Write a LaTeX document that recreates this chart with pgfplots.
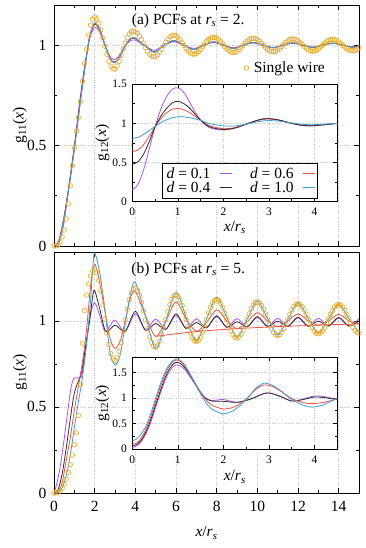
\documentclass[border=0pt]{standalone}
\usepackage{pgfplots}
\pgfplotsset{compat=1.18}
\usepackage{fontspec}
\setmainfont{Liberation Serif}

\definecolor{cP}{RGB}{175,85,230}
\definecolor{cK}{RGB}{45,45,45}
\definecolor{cR}{RGB}{240,80,70}
\definecolor{cB}{RGB}{60,160,215}
\definecolor{cO}{RGB}{232,168,40}

\newcommand{\bigf}{\fontsize{15.5}{16}\selectfont}
\newcommand{\smallf}{\fontsize{11.5}{12}\selectfont}
\newcommand{\xrs}{\textit{x}/\textit{r}\textsubscript{\textit{s}}}

\pgfplotsset{
  common/.style={
    scale only axis, tick align=inside,
    grid=major, grid style={dotted, black!22, line width=0.5pt},
    axis line style={line width=0.8pt},
    tick style={line width=0.6pt, black},
    /pgf/number format/assume math mode=true,
  },
  mainax/.style={common,
    width=305pt, height=241pt,
    xmin=0, xmax=15, ymin=0,
    xtick={0,2,...,14}, minor x tick num=1,
    ytick={0,0.5,1}, minor y tick num=1,
    major tick length=5pt, minor tick length=3pt,
    tick label style={font=\bigf}, label style={font=\bigf},
    xticklabel style={yshift=-5pt},
    yticklabel style={xshift=-4pt},
    ylabel={g\textsubscript{11}(\textit{x})},
    ylabel style={at={(axis description cs:-0.1115,0.5)}, anchor=center},
  },
  inax/.style={common,
    width=205pt,
    xmin=0, xmax=4.5, ymin=0,
    xtick={0,...,4}, minor x tick num=1,
    ytick={0,0.5,1,1.5}, minor y tick num=1,
    major tick length=4pt, minor tick length=2.5pt,
    axis background/.style={fill=white},
    tick label style={font=\smallf}, label style={font=\bigf},
    xticklabel style={yshift=-3pt},
    yticklabel style={xshift=-2pt},
    xlabel={\xrs},
    ylabel={g\textsubscript{12}(\textit{x})},
    ylabel style={at={(axis description cs:-0.1463,0.5)}, anchor=center},
  },
  lP/.style={smooth, no markers, color=cP, line width=0.8pt},
  lK/.style={smooth, no markers, color=cK, line width=0.8pt},
  lR/.style={smooth, no markers, color=cR, line width=0.8pt},
  lB/.style={smooth, no markers, color=cB, line width=0.8pt},
  circ/.style={only marks, mark=o, color=cO, mark size=2.3pt, mark options={line width=0.6pt}},
}

\begin{document}
\begin{tikzpicture}
\path[use as bounding box] (0pt,0pt) rectangle (366pt,-548pt);

% ---------------- (a) r_s = 2 ----------------
\begin{axis}[mainax, at={(54pt,-246pt)}, anchor=south west, ymax=1.2,
  xticklabels={},
  legend style={at={(0.905,0.739)}, anchor=east, draw=none, fill=none, font=\bigf},
  legend cell align=left]
\addplot[circ] coordinates {
(0,0) (0.1,0) (0.2,0.005) (0.3,0.02) (0.4,0.045) (0.5,0.08) (0.6,0.135) (0.7,0.21) (0.8,0.3) (0.9,0.4)
(1.0,0.49) (1.1,0.57) (1.2,0.64) (1.3,0.72) (1.4,0.82) (1.5,0.91) (1.6,0.98) (1.7,1.05) (1.8,1.1) (1.9,1.13)
(2.0,1.140) (2.1,1.131) (2.2,1.109) (2.3,1.076) (2.4,1.037) (2.5,0.995) (2.6,0.955) (2.7,0.920) (2.8,0.895) (2.9,0.882)
(3.0,0.881) (3.1,0.896) (3.2,0.919) (3.3,0.949) (3.4,0.981) (3.5,1.011) (3.6,1.037) (3.7,1.056) (3.8,1.067) (3.9,1.070)
(4.0,1.067) (4.1,1.059) (4.2,1.045) (4.3,1.028) (4.4,1.008) (4.5,0.988) (4.6,0.969) (4.7,0.955) (4.8,0.945) (4.9,0.942)
(5.0,0.944) (5.1,0.952) (5.2,0.965) (5.3,0.980) (5.4,0.998) (5.5,1.015) (5.6,1.030) (5.7,1.041) (5.8,1.048) (5.9,1.050)
(6.0,1.047) (6.1,1.039) (6.2,1.028) (6.3,1.013) (6.4,0.998) (6.5,0.983) (6.6,0.971) (6.7,0.961) (6.8,0.956) (6.9,0.955)
(7.0,0.959) (7.1,0.967) (7.2,0.978) (7.3,0.991) (7.4,1.005) (7.5,1.018) (7.6,1.029) (7.7,1.036) (7.8,1.040) (7.9,1.039)
(8.0,1.035) (8.1,1.027) (8.2,1.017) (8.3,1.005) (8.4,0.992) (8.5,0.981) (8.6,0.972) (8.7,0.966) (8.8,0.963) (8.9,0.964)
(9.0,0.969) (9.1,0.977) (9.2,0.987) (9.3,0.999) (9.4,1.010) (9.5,1.020) (9.6,1.028) (9.7,1.033) (9.8,1.035) (9.9,1.033)
(10.0,1.028) (10.1,1.020) (10.2,1.010) (10.3,0.999) (10.4,0.988) (10.5,0.979) (10.6,0.972) (10.7,0.968) (10.8,0.967) (10.9,0.970)
(11.0,0.976) (11.1,0.984) (11.2,0.994) (11.3,1.004) (11.4,1.014) (11.5,1.022) (11.6,1.028) (11.7,1.031) (11.8,1.031) (11.9,1.027)
(12.0,1.021) (12.1,1.013) (12.2,1.004) (12.3,0.994) (12.4,0.985) (12.5,0.977) (12.6,0.972) (12.7,0.970) (12.8,0.971) (12.9,0.975)
(13.0,0.981) (13.1,0.990) (13.2,0.999) (13.3,1.008) (13.4,1.017) (13.5,1.023) (13.6,1.028) (13.7,1.029) (13.8,1.028) (13.9,1.023)
(14.0,1.016) (14.1,1.008) (14.2,0.999) (14.3,0.990) (14.4,0.982) (14.5,0.976) (14.6,0.972) (14.7,0.972) (14.8,0.974) (14.9,0.979)
(15.0,0.986)};
\addlegendentry{\hspace{3pt}Single wire}
% d = 0.1
\addplot[lP, forget plot] coordinates {
(0,0) (0.25,0.015) (0.5,0.12) (0.75,0.31) (1,0.5) (1.25,0.71) (1.5,0.89) (1.75,1.03) (2,1.088) (2.25,1.065)
(2.49,1.005) (2.75,0.945) (2.98,0.928) (3.22,0.95) (3.46,0.99) (3.7,1.018) (3.95,1.026) (4.44,1.0) (4.93,0.974) (5.41,1.0)
(5.9,1.017) (6.39,1.0) (6.88,0.984) (7.36,1.0) (7.85,1.013) (8.34,1.0) (8.83,0.987) (9.31,1.0) (9.8,1.011) (10.29,1.0)
(10.78,0.989) (11.26,1.0) (11.75,1.01) (12.24,1.0) (12.73,0.99) (13.21,1.0) (13.7,1.009) (14.19,1.0) (14.68,0.991) (15,0.997)};
% d = 0.4
\addplot[lK, forget plot] coordinates {
(0,0) (0.25,0.03) (0.5,0.15) (0.75,0.31) (1,0.49) (1.25,0.69) (1.5,0.88) (1.75,1.04) (2,1.105) (2.25,1.075)
(2.49,1.005) (2.75,0.935) (2.98,0.915) (3.22,0.94) (3.46,0.99) (3.7,1.025) (3.95,1.035) (4.44,1.0) (4.93,0.966) (5.41,0.999)
(5.9,1.022) (6.39,1.0) (6.88,0.978) (7.36,1.0) (7.85,1.016) (8.34,1.0) (8.83,0.984) (9.31,1.0) (9.8,1.013) (10.29,1.0)
(10.78,0.987) (11.26,1.0) (11.75,1.011) (12.24,1.0) (12.73,0.989) (13.21,1.0) (13.7,1.01) (14.19,1.0) (14.68,0.99) (15,0.996)};
% d = 0.6
\addplot[lR, forget plot] coordinates {
(0,0) (0.25,0.03) (0.5,0.145) (0.75,0.305) (1,0.485) (1.25,0.685) (1.5,0.875) (1.75,1.04) (2,1.108) (2.25,1.078)
(2.49,1.005) (2.75,0.933) (2.98,0.913) (3.22,0.94) (3.46,0.99) (3.7,1.026) (3.95,1.036) (4.44,1.0) (4.93,0.965) (5.41,0.999)
(5.9,1.023) (6.39,1.0) (6.88,0.978) (7.36,1.0) (7.85,1.016) (8.34,1.0) (8.83,0.984) (9.31,1.0) (9.8,1.013) (10.29,1.0)
(10.78,0.987) (11.26,1.0) (11.75,1.011) (12.24,1.0) (12.73,0.989) (13.21,1.0) (13.7,1.01) (14.19,1.0) (14.68,0.99) (15,0.996)};
% d = 1.0
\addplot[lB, forget plot] coordinates {
(0,0) (0.25,0.028) (0.5,0.14) (0.75,0.3) (1,0.48) (1.25,0.68) (1.5,0.87) (1.75,1.04) (2,1.112) (2.25,1.082)
(2.49,1.005) (2.75,0.932) (2.98,0.912) (3.22,0.94) (3.46,0.99) (3.7,1.027) (3.95,1.038) (4.44,1.0) (4.93,0.964) (5.41,0.999)
(5.9,1.024) (6.39,1.0) (6.88,0.977) (7.36,1.0) (7.85,1.017) (8.34,1.0) (8.83,0.983) (9.31,1.0) (9.8,1.013) (10.29,1.0)
(10.78,0.987) (11.26,1.0) (11.75,1.011) (12.24,1.0) (12.73,0.989) (13.21,1.0) (13.7,1.01) (14.19,1.0) (14.68,0.99) (15,0.996)};
\node[font=\bigf] at (rel axis cs:0.44,0.934) {(a) PCFs at \textit{r}\textsubscript{\textit{s}} = 2.};
\end{axis}

% inset (a)
\begin{axis}[inax, at={(132.3pt,-201.7pt)}, anchor=south west, height=117.5pt, ymax=1.5,
  xlabel style={at={(axis description cs:0.5,0)}, anchor=center, yshift=-26pt},
  legend style={at={(0.905,0.03)}, anchor=south east, draw=black, line width=0.6pt, fill=white,
    font=\bigf, row sep=-2pt, inner sep=2pt,
    /tikz/every even column/.append style={column sep=16pt},
    /tikz/every odd column/.append style={column sep=7pt}},
  legend columns=2, legend plot pos=right,
  legend image code/.code={\draw[#1] (0pt,0pt) -- (12pt,0pt);}]
\addplot[lP] coordinates {
(0,0.15) (0.125,0.22) (0.25,0.41) (0.375,0.68) (0.5,0.96) (0.625,1.18) (0.75,1.34) (0.875,1.435) (0.95,1.455) (1.05,1.44)
(1.15,1.38) (1.25,1.28) (1.375,1.15) (1.5,1.04) (1.625,0.97) (1.75,0.935) (2.0,0.915) (2.25,0.94) (2.5,0.99) (2.75,1.04)
(2.95,1.063) (3.2,1.045) (3.5,1.0) (3.75,0.972) (3.95,0.968) (4.2,0.98) (4.5,1.0)};
\addlegendentry{\textit{d} = 0.1}
\addplot[lR] coordinates {
(0,0.64) (0.125,0.66) (0.25,0.73) (0.375,0.84) (0.5,0.955) (0.625,1.06) (0.75,1.135) (0.875,1.18) (0.97,1.19) (1.1,1.18)
(1.25,1.14) (1.375,1.09) (1.5,1.04) (1.625,0.99) (1.75,0.96) (2.0,0.932) (2.25,0.945) (2.5,0.99) (2.75,1.038) (2.95,1.057)
(3.2,1.043) (3.5,1.0) (3.75,0.975) (3.95,0.972) (4.2,0.983) (4.5,1.0)};
\addlegendentry{\textit{d} = 0.6}
\addplot[lK] coordinates {
(0,0.48) (0.125,0.51) (0.25,0.61) (0.375,0.77) (0.5,0.955) (0.625,1.09) (0.75,1.19) (0.875,1.26) (0.95,1.28) (1.05,1.275)
(1.15,1.245) (1.25,1.2) (1.375,1.12) (1.5,1.04) (1.625,0.98) (1.75,0.945) (2.0,0.922) (2.25,0.94) (2.5,0.99) (2.75,1.04)
(2.95,1.06) (3.2,1.045) (3.5,1.0) (3.75,0.973) (3.95,0.97) (4.2,0.982) (4.5,1.0)};
\addlegendentry{\textit{d} = 0.4}
\addplot[lB] coordinates {
(0,0.81) (0.125,0.82) (0.25,0.86) (0.375,0.91) (0.5,0.96) (0.625,1.01) (0.75,1.045) (0.9,1.075) (1.05,1.085) (1.2,1.078)
(1.35,1.06) (1.5,1.038) (1.625,1.01) (1.75,0.99) (2.0,0.968) (2.25,0.967) (2.5,0.99) (2.75,1.02) (2.95,1.035) (3.2,1.03)
(3.5,1.005) (3.75,0.987) (3.95,0.983) (4.2,0.99) (4.5,1.0)};
\addlegendentry{\textit{d} = 1.0}
\end{axis}

% ---------------- (b) r_s = 5 ----------------
\begin{axis}[mainax, at={(54pt,-493pt)}, anchor=south west, ymax=1.4,
  xlabel={\xrs},
  xlabel style={at={(axis description cs:0.5,0)}, anchor=center, yshift=-40pt}]
\addplot[circ] coordinates {
(0,0) (0.1,0.001) (0.2,0.004) (0.3,0.012) (0.4,0.028) (0.5,0.05) (0.6,0.08) (0.7,0.12) (0.8,0.165) (0.9,0.22)
(1.0,0.28) (1.1,0.35) (1.2,0.45) (1.3,0.63) (1.4,0.87) (1.5,1.06) (1.6,1.15) (1.7,1.215) (1.8,1.26) (1.9,1.29)
(2.0,1.300) (2.1,1.280) (2.2,1.236) (2.3,1.172) (2.4,1.094) (2.5,1.011) (2.6,0.931) (2.7,0.862) (2.8,0.809) (2.9,0.778)
(3.0,0.770) (3.1,0.785) (3.2,0.822) (3.3,0.874) (3.4,0.937) (3.5,1.004) (3.6,1.068) (3.7,1.122) (3.8,1.163) (3.9,1.186)
(4.0,1.190) (4.1,1.179) (4.2,1.151) (4.3,1.109) (4.4,1.059) (4.5,1.005) (4.6,0.953) (4.7,0.908) (4.8,0.874) (4.9,0.854)
(5.0,0.850) (5.1,0.859) (5.2,0.883) (5.3,0.918) (5.4,0.962) (5.5,1.009) (5.6,1.055) (5.7,1.095) (5.8,1.126) (5.9,1.145)
(6.0,1.150) (6.1,1.142) (6.2,1.121) (6.3,1.089) (6.4,1.050) (6.5,1.008) (6.6,0.967) (6.7,0.930) (6.8,0.902) (6.9,0.885)
(7.0,0.880) (7.1,0.887) (7.2,0.906) (7.3,0.935) (7.4,0.970) (7.5,1.008) (7.6,1.046) (7.7,1.079) (7.8,1.105) (7.9,1.120)
(8.0,1.125) (8.1,1.119) (8.2,1.101) (8.3,1.075) (8.4,1.043) (8.5,1.008) (8.6,0.974) (8.7,0.943) (8.8,0.919) (8.9,0.904)
(9.0,0.900) (9.1,0.906) (9.2,0.922) (9.3,0.946) (9.4,0.976) (9.5,1.009) (9.6,1.041) (9.7,1.070) (9.8,1.092) (9.9,1.106)
(10.0,1.110) (10.1,1.105) (10.2,1.090) (10.3,1.068) (10.4,1.040) (10.5,1.009) (10.6,0.979) (10.7,0.953) (10.8,0.932) (10.9,0.919)
(11.0,0.915) (11.1,0.920) (11.2,0.934) (11.3,0.955) (11.4,0.981) (11.5,1.010) (11.6,1.038) (11.7,1.064) (11.8,1.084) (11.9,1.096)
(12.0,1.100) (12.1,1.095) (12.2,1.083) (12.3,1.063) (12.4,1.038) (12.5,1.011) (12.6,0.984) (12.7,0.960) (12.8,0.941) (12.9,0.929)
(13.0,0.925) (13.1,0.930) (13.2,0.942) (13.3,0.961) (13.4,0.985) (13.5,1.011) (13.6,1.038) (13.7,1.061) (13.8,1.080) (13.9,1.091)
(14.0,1.095) (14.1,1.091) (14.2,1.079) (14.3,1.060) (14.4,1.037) (14.5,1.011) (14.6,0.986) (14.7,0.963) (14.8,0.945) (14.9,0.934)
(15.0,0.930)};
% d = 0.1
\addplot[lP] coordinates {
(0,0) (0.15,0.06) (0.3,0.15) (0.45,0.27) (0.65,0.45) (0.82,0.6) (0.95,0.66) (1.1,0.67) (1.35,0.675) (1.5,0.79)
(1.65,0.93) (1.8,1.04) (2.0,1.105) (2.25,1.03) (2.5,0.94) (2.75,0.97) (3.0,1.005) (3.5,0.94) (4.0,1.04) (4.5,0.948)
(5.0,1.01) (5.5,0.953) (6.0,1.03) (6.5,0.957) (7.0,1.012) (7.5,0.96) (8.0,1.025) (8.5,0.963) (9.0,1.013) (9.5,0.965)
(10.0,1.02) (10.5,0.967) (11.0,1.015) (11.5,0.968) (12.0,1.018) (12.5,0.968) (13.0,1.015) (13.5,0.97) (14.0,1.017) (14.5,0.97)
(15.0,1.013)};
% d = 0.4
\addplot[lK] coordinates {
(0,0) (0.2,0.02) (0.4,0.11) (0.6,0.26) (0.8,0.43) (1.0,0.58) (1.2,0.65) (1.35,0.7) (1.5,0.81) (1.75,1.0)
(1.9,1.14) (2.0,1.176) (2.25,1.07) (2.55,0.938) (3.0,0.975) (3.5,0.94) (4.0,1.055) (4.5,0.945) (5.0,0.985) (5.5,0.95)
(6.0,1.04) (6.5,0.955) (7.0,0.99) (7.5,0.96) (8.0,1.03) (8.5,0.962) (9.0,0.995) (9.5,0.965) (10.0,1.025) (10.5,0.967)
(11.0,0.998) (11.5,0.968) (12.0,1.022) (12.5,0.969) (13.0,0.999) (13.5,0.97) (14.0,1.02) (14.5,0.97) (15.0,1.0)};
% d = 0.6
\addplot[lR] coordinates {
(0,0) (0.2,0.01) (0.4,0.06) (0.6,0.19) (0.8,0.32) (1.0,0.48) (1.2,0.62) (1.4,0.76) (1.6,0.95) (1.8,1.2)
(2.0,1.33) (2.25,1.22) (2.5,1.06) (2.75,0.9) (3.0,0.84) (3.25,0.88) (3.5,1.0) (3.75,1.13) (4.0,1.17) (4.5,1.03)
(5.0,0.91) (5.5,1.0) (6.0,1.11) (6.5,1.01) (7.0,0.94) (7.5,0.99) (8.0,1.064) (8.5,1.0) (9.0,0.955) (9.5,0.995)
(10.0,1.048) (10.5,1.0) (11.0,0.966) (11.5,1.0) (12.0,1.04) (12.5,1.0) (13.0,0.975) (13.5,1.0) (14.0,1.038) (14.5,1.0)
(15.0,0.982)};
\addplot[lR] coordinates {
(5.0,0.91) (6,0.925) (7,0.938) (8,0.947) (9,0.955) (10,0.961) (11,0.966) (12,0.971) (13,0.975) (14,0.979) (15,0.982)};
% d = 1.0
\addplot[lB] coordinates {
(0,0) (0.2,0.005) (0.4,0.03) (0.6,0.1) (0.8,0.22) (1.0,0.38) (1.2,0.53) (1.4,0.67) (1.6,0.86) (1.8,1.12)
(1.9,1.3) (2.0,1.395) (2.25,1.28) (2.5,1.07) (2.75,0.82) (3.0,0.744) (3.25,0.8) (3.5,0.98) (3.75,1.15) (4.0,1.225)
(4.5,1.03) (5.0,0.835) (5.5,1.0) (6.0,1.167) (6.5,1.02) (7.0,0.88) (7.5,1.01) (8.0,1.136) (8.5,1.02) (9.0,0.905)
(9.5,1.01) (10.0,1.116) (10.5,1.015) (11.0,0.919) (11.5,1.01) (12.0,1.103) (12.5,1.015) (13.0,0.928) (13.5,1.012) (14.0,1.097)
(14.5,1.015) (15.0,0.932)};
\node[font=\bigf] at (rel axis cs:0.44,0.925) {(b) PCFs at \textit{r}\textsubscript{\textit{s}} = 5.};
\end{axis}

% inset (b)
\begin{axis}[inax, at={(132.3pt,-449pt)}, anchor=south west, height=91.8pt, ymax=1.8,
  xlabel style={at={(axis description cs:0.5,0)}, anchor=center, yshift=-28pt}]
\addplot[lP] coordinates {
(0,0.03) (0.1,0.06) (0.2,0.15) (0.3,0.3) (0.4,0.51) (0.5,0.78) (0.6,1.05) (0.7,1.3) (0.8,1.5) (0.9,1.62)
(0.95,1.65) (1.05,1.63) (1.15,1.56) (1.25,1.44) (1.4,1.24) (1.5,1.1) (1.6,1.0) (1.75,0.95) (2.0,0.97) (2.3,0.915)
(2.6,0.98) (2.95,1.1) (3.25,1.035) (3.5,0.94) (3.75,0.98) (4.0,1.04) (4.25,1.02) (4.5,0.97)};
\addplot[lK] coordinates {
(0,0.06) (0.1,0.09) (0.2,0.18) (0.3,0.34) (0.4,0.56) (0.5,0.83) (0.6,1.1) (0.7,1.35) (0.8,1.55) (0.9,1.67)
(0.95,1.7) (1.05,1.68) (1.15,1.6) (1.25,1.47) (1.4,1.25) (1.5,1.11) (1.6,1.0) (1.75,0.94) (2.0,0.935) (2.3,0.915)
(2.6,0.98) (2.95,1.1) (3.25,1.03) (3.5,0.94) (3.75,0.97) (4.0,1.02) (4.25,1.005) (4.5,0.965)};
\addplot[lR] coordinates {
(0,0.09) (0.1,0.12) (0.2,0.22) (0.3,0.39) (0.4,0.62) (0.5,0.9) (0.6,1.18) (0.7,1.42) (0.8,1.61) (0.9,1.72)
(0.96,1.745) (1.05,1.72) (1.15,1.63) (1.25,1.49) (1.4,1.26) (1.5,1.11) (1.6,0.98) (1.75,0.86) (2.0,0.785) (2.25,0.83)
(2.5,0.98) (2.7,1.16) (2.88,1.255) (3.05,1.235) (3.25,1.14) (3.5,0.99) (3.75,0.91) (3.95,0.89) (4.2,0.915) (4.5,0.98)};
\addplot[lB] coordinates {
(0,0.16) (0.1,0.2) (0.2,0.3) (0.3,0.45) (0.4,0.68) (0.5,0.96) (0.6,1.23) (0.7,1.47) (0.8,1.64) (0.9,1.74)
(0.97,1.765) (1.05,1.74) (1.15,1.65) (1.25,1.5) (1.4,1.25) (1.5,1.08) (1.6,0.93) (1.75,0.78) (2.0,0.69) (2.25,0.77)
(2.5,0.97) (2.7,1.18) (2.88,1.29) (3.05,1.26) (3.25,1.15) (3.5,0.97) (3.75,0.86) (3.95,0.82) (4.2,0.87) (4.5,1.0)};
\end{axis}
\end{tikzpicture}
\end{document}
